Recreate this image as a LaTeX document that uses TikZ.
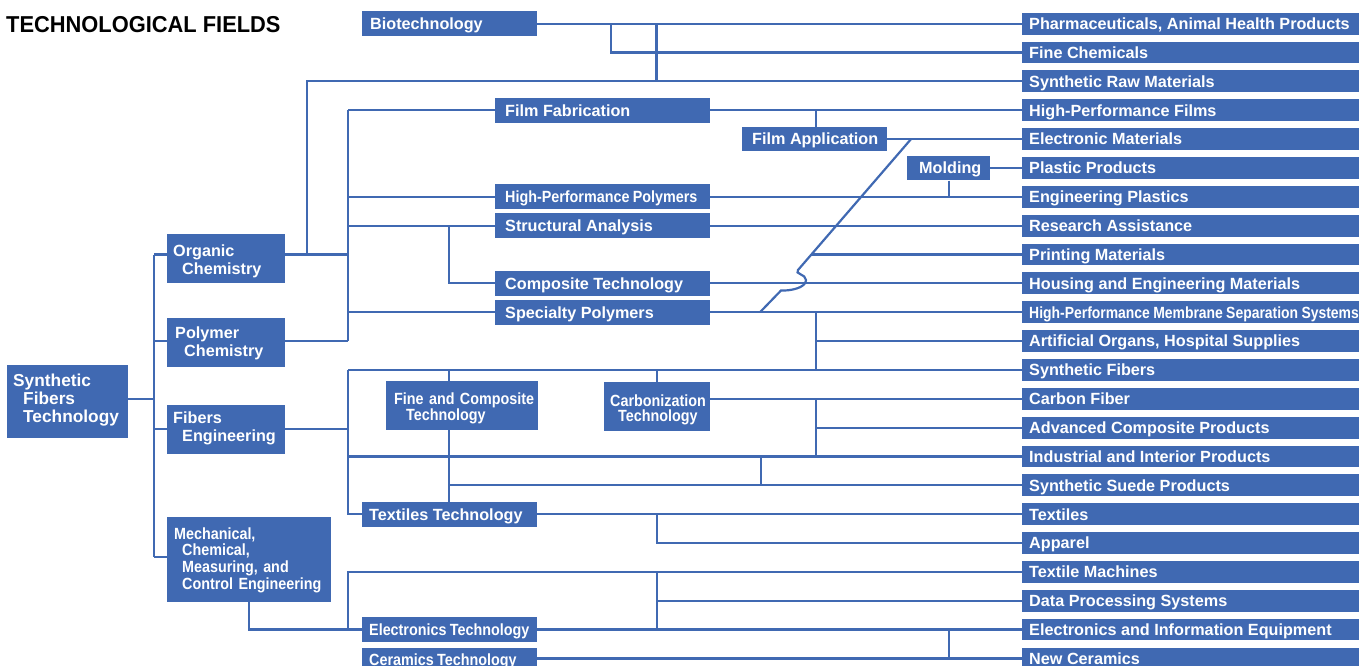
\documentclass[tikz,border=0pt]{standalone}
\usepackage{fontspec}
\setmainfont{Liberation Sans}
\newfontfamily\cnd[FakeStretch=0.885,WordSpace=0.85]{Liberation Sans}
\newfontfamily\cndm[FakeStretch=0.86,WordSpace=0.85]{Liberation Sans}
\newfontfamily\ttlfont[FakeStretch=0.95]{Liberation Sans}
\definecolor{bc}{RGB}{64,105,178}
\newcommand\mylbox[2]{\makebox[#1][l]{#2}}
\begin{document}
\begin{tikzpicture}[x=1pt,y=-1pt,
  fsr/.style={font=\bfseries\fontsize{16.2}{17.6}\selectfont},
  fsc/.style={font=\cnd\bfseries\fontsize{16.2}{16.7}\selectfont},
  bx/.style={fill=bc, text=white, inner ysep=0pt, anchor=west, text height=11.7pt, text depth=0pt},
  mbox/.style={bx, minimum height=24.7pt},
  rbox/.style={bx, fsr, minimum height=21.8pt, inner xsep=7pt},
  mlbox/.style={fill=bc, text=white, anchor=north west, align=left, inner ysep=0pt},
  ln/.style={draw=bc, line width=2.2pt}
]
\useasboundingbox (0,0) rectangle (1359,666);

% title
\node[anchor=base west, inner sep=0pt, font=\ttlfont\bfseries\fontsize{23}{23}\selectfont] (title) at (6,33) {TECHNOLOGICAL FIELDS};

% right column
\node[rbox] (r0) at (1022,23.7) {\mylbox{323pt}{Pharmaceuticals, Animal Health Products}};
\node[rbox] (r1) at (1022,52.55) {\mylbox{323pt}{Fine Chemicals}};
\node[rbox] (r2) at (1022,81.4) {\mylbox{323pt}{Synthetic Raw Materials}};
\node[rbox] (r3) at (1022,110.25) {\mylbox{323pt}{High-Performance Films}};
\node[rbox] (r4) at (1022,139.1) {\mylbox{323pt}{Electronic Materials}};
\node[rbox] (r5) at (1022,167.95) {\mylbox{323pt}{Plastic Products}};
\node[rbox] (r6) at (1022,196.8) {\mylbox{323pt}{Engineering Plastics}};
\node[rbox] (r7) at (1022,225.65) {\mylbox{323pt}{Research Assistance}};
\node[rbox] (r8) at (1022,254.5) {\mylbox{323pt}{Printing Materials}};
\node[rbox] (r9) at (1022,283.35) {\mylbox{323pt}{Housing and Engineering Materials}};
\node[rbox, font=\cndm\bfseries\fontsize{16.2}{17}\selectfont] (r10) at (1022,312.2) {\mylbox{323pt}{High-Performance Membrane Separation Systems}};
\node[rbox] (r11) at (1022,341.05) {\mylbox{323pt}{Artificial Organs, Hospital Supplies}};
\node[rbox] (r12) at (1022,369.9) {\mylbox{323pt}{Synthetic Fibers}};
\node[rbox] (r13) at (1022,398.75) {\mylbox{323pt}{Carbon Fiber}};
\node[rbox] (r14) at (1022,427.6) {\mylbox{323pt}{Advanced Composite Products}};
\node[rbox] (r15) at (1022,456.45) {\mylbox{323pt}{Industrial and Interior Products}};
\node[rbox] (r16) at (1022,485.3) {\mylbox{323pt}{Synthetic Suede Products}};
\node[rbox] (r17) at (1022,514.15) {\mylbox{323pt}{Textiles}};
\node[rbox] (r18) at (1022,543.0) {\mylbox{323pt}{Apparel}};
\node[rbox] (r19) at (1022,571.85) {\mylbox{323pt}{Textile Machines}};
\node[rbox] (r20) at (1022,600.7) {\mylbox{323pt}{Data Processing Systems}};
\node[rbox] (r21) at (1022,629.55) {\mylbox{323pt}{Electronics and Information Equipment}};
\node[rbox] (r22) at (1022,658.4) {\mylbox{323pt}{New Ceramics}};

% middle single-line boxes
\node[mbox, fsr, inner xsep=8pt] (bio) at (362,23.7) {\mylbox{159pt}{Biotechnology}};
\node[mbox, fsr, inner xsep=10pt] (filmfab) at (495,110.25) {\mylbox{195pt}{Film Fabrication}};
\node[mbox, fsr, inner xsep=10pt] (filmapp) at (742,139.1) {\mylbox{125pt}{Film Application}};
\node[mbox, fsr, inner xsep=12pt] (molding) at (907,167.95) {\mylbox{59pt}{Molding}};
\node[mbox, fsc, inner xsep=10pt] (hpp) at (495,196.8) {\mylbox{195pt}{High-Performance Polymers}};
\node[mbox, fsr, inner xsep=10pt] (struct) at (495,225.65) {\mylbox{195pt}{Structural Analysis}};
\node[mbox, fsr, inner xsep=10pt] (comp) at (495,283.35) {\mylbox{195pt}{Composite Technology}};
\node[mbox, fsr, inner xsep=10pt] (spec) at (495,312.2) {\mylbox{195pt}{Specialty Polymers}};
\node[mbox, fsr, inner xsep=7pt] (textech) at (362,514.15) {\mylbox{161pt}{Textiles Technology}};
\node[mbox, fsc, inner xsep=7pt] (electech) at (362,629.55) {\mylbox{161pt}{Electronics Technology}};
\node[mbox, fsc, inner xsep=7pt] (ceram) at (362,660) {\mylbox{161pt}{Ceramics Technology}};

% multi-line boxes
\node[mlbox, font=\bfseries\fontsize{17.3}{17.9}\selectfont, text width=109pt, inner xsep=6pt, minimum height=73pt, text height=21.7pt, text depth=51.3pt] (sft) at (7,365) {Synthetic\\\hspace*{10pt}Fibers\\\hspace*{10pt}Technology};
\node[mlbox, fsr, text width=106pt, inner xsep=6pt, minimum height=49pt, text height=22.7pt, text depth=26.3pt] (org) at (167,234) {Organic\\\hspace*{9pt}Chemistry};
\node[mlbox, fsr, text width=102pt, inner xsep=8pt, minimum height=48.7pt, text height=20.3pt, text depth=28.4pt] (poly) at (167,318) {Polymer\\\hspace*{9pt}Chemistry};
\node[mlbox, fsr, font=\bfseries\fontsize{16.2}{17.3}\selectfont, text width=106pt, inner xsep=6pt, minimum height=49pt, text height=18.7pt, text depth=30.3pt] (fibeng) at (167,405) {Fibers\\\hspace*{9pt}Engineering};
\node[mlbox, fsc, text width=150pt, inner xsep=7pt, minimum height=85pt, text height=22pt, text depth=63pt] (mech) at (167,517) {Mechanical,\\\hspace*{8pt}Chemical,\\\hspace*{8pt}Measuring, and\\\hspace*{8pt}Control Engineering};
\node[mlbox, font=\cnd\bfseries\fontsize{16.2}{16}\selectfont, text width=135.5pt, inner xsep=8pt, minimum height=48.5pt, text height=23pt, text depth=25.5pt] (finecomp) at (386,381) {\mbox{Fine and Composite}\\\hspace*{12pt}Technology};
\node[mlbox, font=\cnd\bfseries\fontsize{16.2}{15}\selectfont, text width=94pt, inner xsep=6pt, minimum height=48.7pt, text height=24.7pt, text depth=24pt] (carb) at (604,382) {\mbox{Carbonization}\\\hspace*{8pt}Technology};

% connectors: biotechnology
\draw[ln] (bio.east) -- (r0.west);
\draw[ln] (bio.east -| 611,0) |- (r1.west);
\draw[ln] (bio.east -| 656.5,0) -- (656.5,81.4);
% organic chemistry
\draw[ln] (org.east |- 0,254.5) -- (348,254.5);
\draw[ln] (307,254.5) |- (r2.west);
% polymer bus
\draw[ln] (348,110.25) -- (348,341.05);
\draw[ln] (poly.east |- 0,341.05) -- (348,341.05);
\draw[ln] (348,110.25) -- (filmfab.west);
\draw[ln] (348,196.8) -- (hpp.west);
\draw[ln] (348,225.65) -- (struct.west);
\draw[ln] (348,312.2) -- (spec.west);
\draw[ln] (449,225.65) |- (comp.west);
% film
\draw[ln] (filmfab.east) -- (r3.west);
\draw[ln] (816,110.25) -- (816,0 |- filmapp.north);
\draw[ln] (filmapp.east) -- (r4.west);
\coordinate (dtop) at (911,139.1);
\draw[ln] (dtop) -- (798,270) .. controls (794,274) and (806,274) .. (806,280) .. controls (806,288) and (790,291) .. (781,290.5) -- (760,312.2);
\draw[ln] (811.4,254.5) -- (r8.west);
% molding
\draw[ln] (molding.east) -- (r5.west);
\draw[ln] (molding.south) -- (molding.south |- r6.west);
\draw[ln] (hpp.east) -- (r6.west);
\draw[ln] (struct.east) -- (r7.west);
\draw[ln] (comp.east) -- (r9.west);
\draw[ln] (spec.east) -- (r10.west);
\draw[ln] (816,312.2) -- (816,369.9);
\draw[ln] (816,341.05) -- (r11.west);
% fibers bus
\draw[ln] (348,369.9) -- (r12.west);
\draw[ln] (348,369.9) |- (textech.west);
\draw[ln] (fibeng.east |- 0,429) -- (348,429);
\draw[ln] (449,369.9) -- (449,0 |- finecomp.north);
\draw[ln] (449,0 |- finecomp.south) -- (449,0 |- textech.north);
\draw[ln] (657,369.9) -- (657,0 |- carb.north);
\draw[ln] (carb.east |- r13.west) -- (r13.west);
\draw[ln] (816,398.75) -- (816,456.45);
\draw[ln] (816,427.6) -- (r14.west);
\draw[ln] (348,456.45) -- (r15.west);
\draw[ln] (761,456.45) -- (761,485.3);
\draw[ln] (449,485.3) -- (r16.west);
\draw[ln] (textech.east) -- (r17.west);
\draw[ln] (657,514.15) |- (r18.west);
% mechanical
\draw[ln] (mech.south) |- (electech.west);
\draw[ln] (348,629.55) |- (r19.west);
\draw[ln] (657,571.85) -- (657,629.55);
\draw[ln] (657,600.7) -- (r20.west);
\draw[ln] (electech.east) -- (r21.west);
\draw[ln] (949,629.55) -- (949,658.4);
\draw[ln] (ceram.east |- r22.west) -- (r22.west);
% root
\draw[ln] (sft.east |- 0,399.3) -- (154,399.3);
\draw[ln] (154,254.5) -- (154,557);
\draw[ln] (154,254.5) -- (org.west |- 0,254.5);
\draw[ln] (154,341.05) -- (poly.west |- 0,341.05);
\draw[ln] (154,429) -- (fibeng.west |- 0,429);
\draw[ln] (154,557) -- (mech.west |- 0,557);
\end{tikzpicture}
\end{document}
